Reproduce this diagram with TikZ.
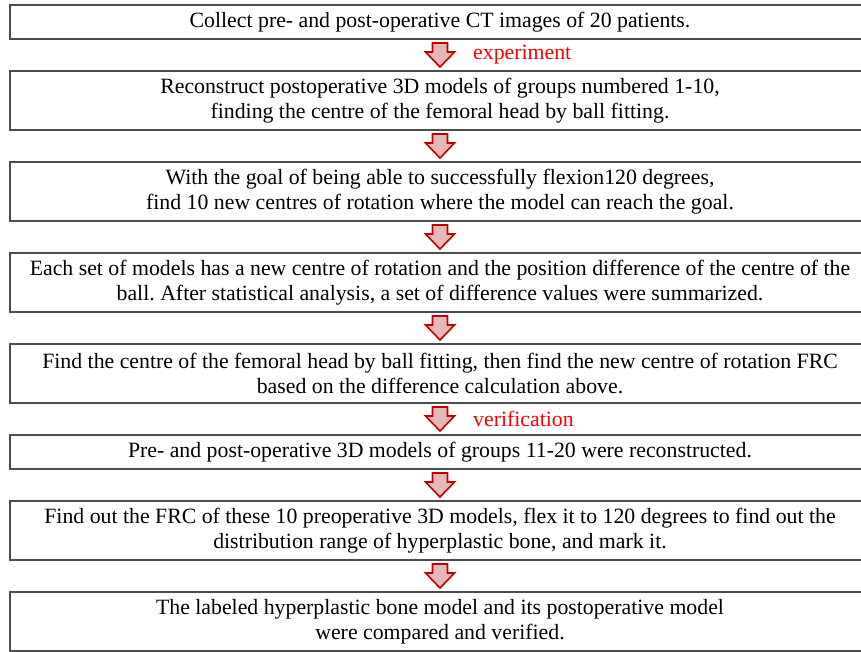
\documentclass[tikz,border=0pt]{standalone}
\usepackage{fontspec}
\setmainfont{Liberation Serif}
\frenchspacing
\usetikzlibrary{positioning,calc}
\definecolor{arrowred}{RGB}{192,0,0}
\definecolor{arrowpink}{RGB}{230,185,184}
\tikzset{
  stepbox/.style={draw=black!70, line width=1.2pt, minimum width=860pt, inner sep=0pt,
    outer sep=0pt, align=center, font=\fontsize{21.8}{25}\selectfont},
  onebox/.style={stepbox, minimum height=34pt},
  twobox/.style={stepbox, minimum height=59pt},
  flowarrow/.style={draw=arrowred, fill=arrowpink, line width=1.6pt, line join=miter},
  phaselabel/.style={text=red, font=\fontsize{21.8}{25}\selectfont, anchor=west, inner sep=0pt}
}
% block arrow from the bottom of one box to the top of the next
\newcommand\flowdown[2]{%
  \draw[flowarrow] ($(#1.south)+(-7.5,-4)$) -- ($(#1.south)+(7.5,-4)$)
    -- ($(#2.north)+(7.5,19)$) -- ($(#2.north)+(14.5,19)$) -- ($(#2.north)+(0,4)$)
    -- ($(#2.north)+(-14.5,19)$) -- ($(#2.north)+(-7.5,19)$) -- cycle;}
\begin{document}
\begin{tikzpicture}[x=1pt,y=1pt,node distance=32pt]
\useasboundingbox (0,0) rectangle (861,-652);

\node[onebox, anchor=north west] (b1) at (10,-5) {Collect pre- and post-operative CT images of 20 patients.};
\node[twobox, below=of b1] (b2) {Reconstruct postoperative 3D models of groups numbered 1-10,\\
  finding the centre of the femoral head by ball fitting.};
\node[twobox, below=of b2] (b3) {With the goal of being able to successfully flexion120 degrees,\\
  find 10 new centres of rotation where the model can reach the goal.};
\node[twobox, below=of b3] (b4) {Each set of models has a new centre of rotation and the position difference of the centre of the\\
  ball. After statistical analysis, a set of difference values were summarized.};
\node[twobox, below=of b4] (b5) {Find the centre of the femoral head by ball fitting, then find the new centre of rotation FRC\\
  based on the difference calculation above.};
\node[onebox, below=of b5] (b6) {Pre- and post-operative 3D models of groups 11-20 were reconstructed.};
\node[twobox, below=of b6] (b7) {Find out the FRC of these 10 preoperative 3D models, flex it to 120 degrees to find out the\\
  distribution range of hyperplastic bone, and mark it.};
\node[twobox, below=of b7] (b8) {The labeled hyperplastic bone model and its postoperative model\\
  were compared and verified.};

\flowdown{b1}{b2}
\flowdown{b2}{b3}
\flowdown{b3}{b4}
\flowdown{b4}{b5}
\flowdown{b5}{b6}
\flowdown{b6}{b7}
\flowdown{b7}{b8}

\node[phaselabel] (lexp) at ($(b1.south)!0.5!(b2.north)+(33,0)$) {experiment};
\node[phaselabel] (lver) at ($(b5.south)!0.5!(b6.north)+(33,0)$) {verification};
\end{tikzpicture}
\end{document}
